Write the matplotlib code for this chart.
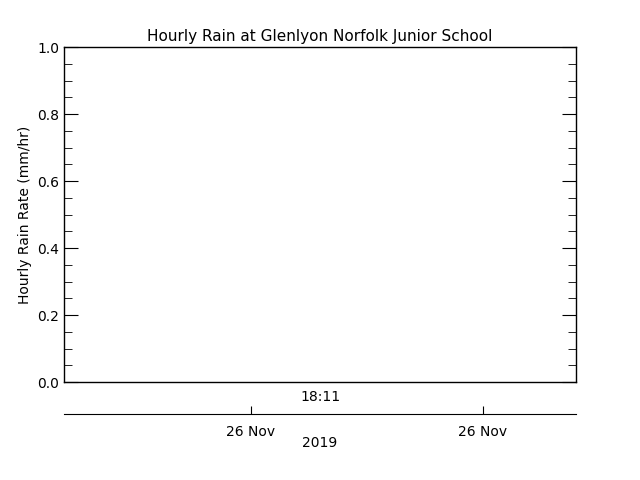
import matplotlib
matplotlib.use("Agg")
import matplotlib.pyplot as plt
from matplotlib.ticker import MultipleLocator

# no rain recorded in this window
rain_time = []
rain_rate = []

date_ticks = [0.365, 0.818]
date_labels = ["26 Nov", "26 Nov"]
time_label = "18:11"
year_label = "2019"

plt.rcParams['font.family'] = ['DejaVu Sans']
plt.rcParams['font.size'] = 10

fig = plt.figure(figsize=(6.4, 4.8), dpi=100)
ax = fig.add_axes([0.1, 0.204, 0.8, 0.698])
ax.plot(rain_time, rain_rate, color='black')
ax.set_xlim(0, 1)
ax.set_ylim(0, 1)
ax.set_title("Hourly Rain at Glenlyon Norfolk Junior School", fontsize=11, pad=4)
ax.set_ylabel("Hourly Rain Rate (mm/hr)", fontsize=10)
ax.yaxis.set_major_locator(MultipleLocator(0.2))
ax.yaxis.set_minor_locator(MultipleLocator(0.05))
ax.tick_params(axis='y', which='both', direction='in', left=True, right=True, labelsize=10)
ax.tick_params(axis='y', which='major', length=10)
ax.tick_params(axis='y', which='minor', length=6)
ax.set_xticks([])
ax.yaxis.set_major_formatter(plt.FormatStrFormatter('%.1f'))
for s in ax.spines.values():
    s.set_linewidth(1)

# date axis below the plot
ax2 = fig.add_axes([0.1, 0.1375, 0.8, 0.001])
ax2.set_xlim(0, 1)
ax2.set_yticks([])
for side in ['top', 'left', 'right']:
    ax2.spines[side].set_visible(False)
ax2.patch.set_visible(False)
ax2.set_xticks(date_ticks)
ax2.set_xticklabels(date_labels)
ax2.tick_params(axis='x', direction='in', length=6, pad=8, labelsize=10)
ax2.set_xlabel(year_label, fontsize=10, labelpad=-2)
fig.text(0.5, 0.172, time_label, ha='center', va='center', fontsize=10)

fig.savefig("out.png", dpi=100)
